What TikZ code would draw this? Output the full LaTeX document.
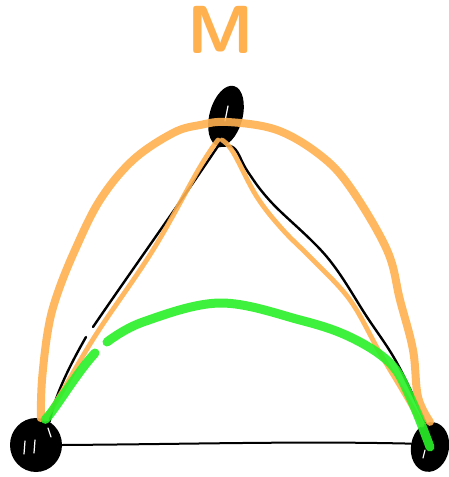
\documentclass[tikz,border=0pt]{standalone}
\usetikzlibrary{shapes.geometric}
\definecolor{orangeM}{RGB}{255,176,79}
\definecolor{vertM}{RGB}{40,240,40}
\tikzset{
	sommet/.style={ellipse, fill=black, inner sep=0pt},
	rayure/.style={white, line width=0.6pt, line cap=round},
	arete/.style={black, line width=1.2pt, line cap=round},
	orangefin/.style={orangeM, line width=2.4pt, line cap=round, opacity=0.9},
	orangegros/.style={orangeM, line width=4pt, line cap=round, opacity=0.9},
	vertgros/.style={vertM, line width=4.5pt, line cap=round, opacity=0.9}
}

\begin{document}
\begin{tikzpicture}[x=0.5pt, y=-0.5pt]
	\useasboundingbox (0,0) rectangle (449,477);
	%les sommets
	\node[sommet, minimum width=16.5pt, minimum height=31pt, rotate=-15] (T) at (226,116) {};
	\node[sommet, minimum width=26pt, minimum height=27pt] (BG) at (36,445) {};
	\node[sommet, minimum width=19pt, minimum height=25pt, rotate=-10] (BD) at (430,447) {};
	\draw[rayure] (228,106) -- (225,121);
	\draw[rayure] (25,441) -- (24,454);
	\draw[rayure] (35,440) -- (34,453);
	\draw[rayure] (48,428) -- (51,437);
	\draw[rayure] (425,450) -- (423,458);
	%le titre
	\node[text=orangeM, font=\fontsize{34}{34}\selectfont\sffamily\bfseries] (titre) at (221,30) {M};
	%les aretes du triangle
	\draw[arete] (T.south) .. controls (175,210) and (125,280) .. (93,327);
	\draw[arete] (86,337) .. controls (70,365) and (55,395) .. (BG.60);
	\draw[arete] plot[smooth, tension=0.6] coordinates {(T.south) (234,148) (248,172) (272,203) (327,257) (367,317) (397,363) (BD.110)};
	\draw[arete, line width=1pt] (BG.east) .. controls (200,444) and (300,441) .. (BD.west);
	%les courbes orange
	\draw[orangegros] plot[smooth, tension=0.6] coordinates {(BG.80) (42,380) (48,330) (57,295) (75,250) (100,200) (133,160) (173,133) (200,125) (228,122) (277,130) (320,155) (350,187) (387,250) (400,300) (413,350) (418,397) (BD.100)};
	\draw[orangefin] plot[smooth, tension=0.6] coordinates {(BG.70) (63,390) (97,333) (153,250) (200,167) (218,140)};
	\draw[orangefin] plot[smooth, tension=0.6] coordinates {(222,140) (233,152) (257,197) (283,230) (313,260) (350,300) (380,353) (405,395) (BD.120)};
	%la courbe verte
	\draw[vertgros] (BG.70) .. controls (55,410) and (75,375) .. (95,353);
	\draw[vertgros] plot[smooth, tension=0.6] coordinates {(107,342) (143,322) (220,303) (300,320) (350,337) (390,363) (410,397) (BD.center)};
\end{tikzpicture}
\end{document}
